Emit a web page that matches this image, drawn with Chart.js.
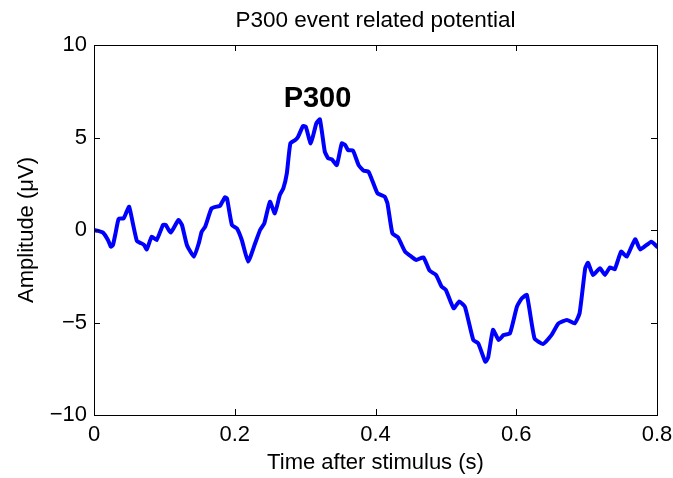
<!DOCTYPE html>
<html>
<head>
<meta charset="utf-8">
<script src="https://cdn.jsdelivr.net/npm/chart.js@4/dist/chart.umd.min.js"></script>
<style>
  html, body { margin: 0; padding: 0; background: #fff; }
  #wrap { width: 673px; height: 478px; position: relative; }
</style>
</head>
<body>
<div id="wrap"><canvas id="c"></canvas></div>
<script>
// values
const chartTitle = 'P300 event related potential'
const xLabel = 'Time after stimulus (s)'
const yLabel = 'Amplitude (\u03bcV)'
const peakLabel = 'P300'
const peakAt = [0.3176, 7.09]

const times = [
  0.000, 0.006, 0.013, 0.020, 0.024, 0.027, 0.031, 0.035, 0.042, 0.046,
  0.050, 0.055, 0.061, 0.066, 0.071, 0.075, 0.082, 0.089, 0.098, 0.102,
  0.109, 0.120, 0.125, 0.132, 0.142, 0.149, 0.153, 0.158, 0.167, 0.174,
  0.179, 0.186, 0.189, 0.196, 0.203, 0.210, 0.219, 0.229, 0.236, 0.242,
  0.250, 0.257, 0.264, 0.269, 0.274, 0.279, 0.286, 0.290, 0.297, 0.301,
  0.308, 0.316, 0.321, 0.328, 0.333, 0.338, 0.345, 0.352, 0.357, 0.361,
  0.368, 0.376, 0.383, 0.390, 0.397, 0.403, 0.413, 0.417, 0.424, 0.432,
  0.442, 0.451, 0.458, 0.468, 0.477, 0.486, 0.494, 0.500, 0.511, 0.519,
  0.527, 0.539, 0.546, 0.556, 0.560, 0.567, 0.575, 0.582, 0.591, 0.601,
  0.608, 0.615, 0.626, 0.638, 0.650, 0.660, 0.672, 0.683, 0.690, 0.698,
  0.702, 0.709, 0.719, 0.726, 0.733, 0.740, 0.749, 0.757, 0.769, 0.776,
  0.792, 0.800
]
const amplitude = [
  0.0, -0.05, -0.15, -0.55, -0.9, -0.8, -0.1, 0.6, 0.63, 0.95,
  1.26, 0.4, -0.6, -0.7, -0.8, -1.05, -0.36, -0.54, 0.27, 0.27,
  -0.14, 0.54, 0.27, -0.81, -1.44, -0.7, -0.09, 0.18, 1.17, 1.26,
  1.3, 1.77, 1.7, 0.27, 0.09, -0.54, -1.71, -0.72, 0.0, 0.36,
  1.53, 0.9, 1.89, 2.25, 3.06, 4.68, 4.86, 5.04, 5.62, 5.58,
  4.68, 5.77, 5.98, 4.23, 3.87, 3.82, 3.51, 4.68, 4.59, 4.32,
  4.29, 3.51, 3.21, 3.15, 2.52, 1.98, 1.8, 1.44, -0.18, -0.4,
  -1.17, -1.44, -1.62, -1.48, -2.2, -2.43, -3.06, -3.24, -4.23, -3.87,
  -4.14, -5.95, -6.13, -7.12, -6.9, -5.4, -5.95, -5.68, -5.59, -4.14,
  -3.69, -3.51, -5.86, -6.16, -5.68, -5.05, -4.86, -5.05, -4.5, -2.07,
  -1.77, -2.43, -2.07, -2.43, -2.02, -2.12, -1.17, -1.44, -0.5, -1.05,
  -0.63, -0.9
]
const xTicks = [0, 0.2, 0.4, 0.6, 0.8]
const yTicks = [-10, -5, 0, 5, 10]

const FONT = 'Liberation Sans, Arial, Helvetica, sans-serif'

// matlab style box with ticks pointing inward, plus title and annotation
const matlabAxes = {
  id: 'matlabAxes',
  afterDraw (chart) {
    const { ctx, chartArea: a, scales } = chart
    const tl = 6
    ctx.save()
    ctx.strokeStyle = '#000'
    ctx.lineWidth = 1
    ctx.beginPath()
    xTicks.forEach(v => {
      const px = Math.round(scales.x.getPixelForValue(v)) + 0.5
      ctx.moveTo(px, a.bottom); ctx.lineTo(px, a.bottom - tl)
      ctx.moveTo(px, a.top); ctx.lineTo(px, a.top + tl)
    })
    yTicks.forEach(v => {
      const py = Math.round(scales.y.getPixelForValue(v)) + 0.5
      ctx.moveTo(a.left, py); ctx.lineTo(a.left + tl, py)
      ctx.moveTo(a.right, py); ctx.lineTo(a.right - tl, py)
    })
    ctx.stroke()
    ctx.strokeRect(Math.round(a.left) + 0.5, Math.round(a.top) + 0.5,
      Math.round(a.right - a.left), Math.round(a.bottom - a.top))

    ctx.fillStyle = '#000'
    ctx.textAlign = 'center'
    ctx.textBaseline = 'alphabetic'
    ctx.font = '22.5px ' + FONT
    ctx.fillText(chartTitle, (a.left + a.right) / 2, 27)

    ctx.font = 'bold 29px ' + FONT
    ctx.textBaseline = 'middle'
    ctx.fillText(peakLabel, scales.x.getPixelForValue(peakAt[0]), scales.y.getPixelForValue(peakAt[1]))
    ctx.restore()
  }
}

new Chart(document.getElementById('c'), {
  type: 'line',
  data: {
    datasets: [{
      data: times.map((t, i) => ({ x: t, y: amplitude[i] })),
      borderColor: '#0000ff',
      borderWidth: 4,
      pointRadius: 0,
      tension: 0.15,
      borderJoinStyle: 'round',
      borderCapStyle: 'round',
      fill: false
    }]
  },
  options: {
    responsive: true,
    maintainAspectRatio: false,
    animation: false,
    layout: { padding: { top: 45, right: 0, left: 0, bottom: 0 } },
    plugins: {
      legend: { display: false },
      tooltip: { enabled: false },
      title: { display: false }
    },
    scales: {
      x: {
        type: 'linear',
        min: 0,
        max: 0.8,
        afterFit: s => { s.height = 63; s.paddingRight = 16 },
        afterBuildTicks: s => { s.ticks = xTicks.map(v => ({ value: v })) },
        grid: { display: false, drawTicks: false },
        border: { display: false },
        ticks: {
          padding: 7,
          color: '#000',
          font: { family: FONT, size: 22 },
          callback: v => String(Math.round(v * 10) / 10)
        },
        title: {
          display: true,
          text: xLabel,
          color: '#000',
          font: { family: FONT, size: 22 },
          padding: { top: 0, bottom: 2 }
        }
      },
      y: {
        min: -10,
        max: 10,
        afterFit: s => { s.width = 94 },
        afterBuildTicks: s => { s.ticks = yTicks.map(v => ({ value: v })) },
        grid: { display: false, drawTicks: false },
        border: { display: false },
        ticks: {
          padding: 7,
          color: '#000',
          font: { family: FONT, size: 22 },
          callback: v => String(v).replace('-', '\u2212')
        },
        title: {
          display: true,
          text: yLabel,
          color: '#000',
          font: { family: FONT, size: 22 },
          padding: { top: 14, bottom: 0 }
        }
      }
    }
  },
  plugins: [matlabAxes]
})
</script>
</body>
</html>
